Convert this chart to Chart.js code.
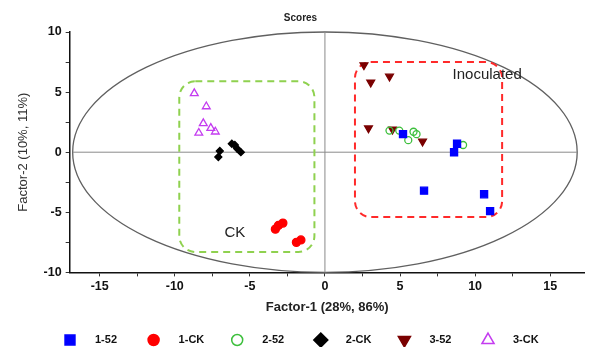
<!DOCTYPE html>
<html>
<head>
<meta charset="utf-8">
<title>Scores</title>
<script src="https://cdn.jsdelivr.net/npm/chart.js@4.4.1/dist/chart.umd.min.js"></script>
<style>
    html, body { margin: 0; padding: 0; background: #fff; }
    #wrap { width: 591px; height: 347px; }
</style>
</head>
<body>
<div id="wrap"><canvas id="scoreChart"></canvas></div>
<script>
// Series names and scores (Factor-1, Factor-2)
const seriesNames = ['1-52', '1-CK', '2-52', '2-CK', '3-52', '3-CK'];

const x152 = [5.2, 8.8, 8.6, 6.6, 10.6, 11.0];
const y152 = [1.5, 0.7, 0.0, -3.2, -3.5, -4.9];

const x1CK = [-3.3, -3.1, -2.8, -1.9, -1.6];
const y1CK = [-6.4, -6.1, -5.9, -7.5, -7.3];

const x252 = [4.3, 4.95, 5.9, 6.1, 5.55, 9.2];
const y252 = [1.8, 1.8, 1.7, 1.5, 1.0, 0.6];

const x2CK = [-7.0, -7.1, -6.2, -6.0, -5.85, -5.6];
const y2CK = [0.1, -0.4, 0.7, 0.6, 0.3, 0.0];

const x352 = [2.6, 3.05, 4.3, 2.9, 4.5, 6.5];
const y352 = [7.25, 5.8, 6.3, 2.0, 1.9, 0.9];

const x3CK = [-8.7, -7.9, -8.1, -7.6, -7.3, -8.4];
const y3CK = [4.9, 3.8, 2.4, 2.0, 1.7, 1.6];

const xTicks = [-15, -10, -5, 0, 5, 10, 15];
const yTicks = [-10, -5, 0, 5, 10];

// Hotelling ellipse semi-axes and the two group boxes
const ellipseAxes = [16.8, 10];
const ckBox = [-9.7, 5.9, -0.7, -8.3];
const inocBox = [2.0, 7.5, 11.8, -5.4];

function pts(xs, ys) {
    return xs.map((x, i) => ({ x: x, y: ys[i] }));
}

const styles = [
    { pointStyle: 'rect', radius: 5, rotation: 0, fill: '#0000ff', stroke: '#0000ff' },
    { pointStyle: 'circle', radius: 4, rotation: 0, fill: '#ff0000', stroke: '#ff0000' },
    { pointStyle: 'circle', radius: 3.5, rotation: 0, fill: 'rgba(0,0,0,0)', stroke: '#3cbf3c' },
    { pointStyle: 'rectRot', radius: 3.5, rotation: 0, fill: '#000000', stroke: '#000000' },
    { pointStyle: 'triangle', radius: 4.5, rotation: 180, fill: '#7a0000', stroke: '#7a0000' },
    { pointStyle: 'triangle', radius: 4.5, rotation: 0, fill: 'rgba(0,0,0,0)', stroke: '#c43cf0' }
];

const allData = [pts(x152, y152), pts(x1CK, y1CK), pts(x252, y252), pts(x2CK, y2CK), pts(x352, y352), pts(x3CK, y3CK)];

const datasets = seriesNames.map((name, i) => ({
    label: name,
    data: allData[i],
    pointStyle: styles[i].pointStyle,
    pointRadius: styles[i].radius,
    pointRotation: styles[i].rotation,
    backgroundColor: styles[i].fill,
    borderColor: styles[i].stroke,
    borderWidth: 1.3,
    order: i
}));

// Ellipse, zero lines, dashed boxes and labels, drawn behind the points
const backdrop = {
    id: 'backdrop',
    beforeDatasetsDraw(chart) {
        const ctx = chart.ctx;
        const xs = chart.scales.x, ys = chart.scales.y;
        const cx = xs.getPixelForValue(0), cy = ys.getPixelForValue(0);
        const rx = xs.getPixelForValue(ellipseAxes[0]) - cx;
        const ry = cy - ys.getPixelForValue(ellipseAxes[1]);

        ctx.save();
        ctx.strokeStyle = '#606060';
        ctx.lineWidth = 1.3;
        ctx.beginPath();
        ctx.ellipse(cx, cy, rx, ry, 0, 0, Math.PI * 2);
        ctx.stroke();

        ctx.strokeStyle = '#8a8a8a';
        ctx.lineWidth = 1;
        ctx.beginPath();
        ctx.moveTo(cx - rx, cy);
        ctx.lineTo(cx + rx, cy);
        ctx.moveTo(cx, cy - ry);
        ctx.lineTo(cx, cy + ry);
        ctx.stroke();

        const box = (b, color) => {
            const l = xs.getPixelForValue(b[0]), t = ys.getPixelForValue(b[1]);
            const r = xs.getPixelForValue(b[2]), btm = ys.getPixelForValue(b[3]);
            ctx.strokeStyle = color;
            ctx.lineWidth = 2;
            ctx.setLineDash([7, 5]);
            ctx.beginPath();
            ctx.roundRect(l, t, r - l, btm - t, 16);
            ctx.stroke();
        };
        box(ckBox, '#8fd14f');
        box(inocBox, '#ff2a2a');
        ctx.setLineDash([]);

        ctx.fillStyle = '#222';
        ctx.font = '15px "Liberation Sans", Arial, sans-serif';
        ctx.textBaseline = 'middle';
        ctx.textAlign = 'left';
        ctx.fillText('Inoculated', xs.getPixelForValue(8.5), ys.getPixelForValue(6.4));
        ctx.textAlign = 'center';
        ctx.fillText('CK', xs.getPixelForValue(-6.0), ys.getPixelForValue(-6.7));
        ctx.restore();
    }
};

// Legend row along the bottom, wide gaps like the original
const bottomLegend = {
    id: 'bottomLegend',
    afterDraw(chart) {
        const ctx = chart.ctx;
        const y = 340;
        ctx.save();
        ctx.font = 'bold 11px "Liberation Sans", Arial, sans-serif';
        ctx.textBaseline = 'middle';
        ctx.textAlign = 'left';
        seriesNames.forEach((name, i) => {
            const mx = 70 + i * 83.6;
            const st = styles[i];
            ctx.fillStyle = st.fill;
            ctx.strokeStyle = st.stroke;
            ctx.lineWidth = 1.5;
            Chart.helpers.drawPoint(ctx, {
                pointStyle: st.pointStyle,
                radius: st.pointStyle === 'circle' ? 5.5 : 7,
                rotation: st.rotation,
                borderWidth: 1.5
            }, mx, y);
            ctx.fillStyle = '#111';
            ctx.fillText(name, mx + 25, y);
        });
        ctx.restore();
    }
};

const tickFont = { family: '"Liberation Sans", Arial, sans-serif', size: 12.5, weight: 'bold' };

new Chart(document.getElementById('scoreChart'), {
    type: 'scatter',
    data: { datasets: datasets },
    options: {
        responsive: true,
        maintainAspectRatio: false,
        animation: false,
        layout: { padding: { left: 16, right: 6, top: 0, bottom: 32 } },
        plugins: {
            legend: { display: false },
            tooltip: { enabled: false },
            title: {
                display: true,
                text: 'Scores',
                color: '#222',
                font: { family: '"Liberation Sans", Arial, sans-serif', size: 10, weight: 'bold' },
                padding: { top: 12, bottom: 8 }
            }
        },
        scales: {
            x: {
                type: 'linear',
                min: -17,
                max: 17.3,
                afterBuildTicks: (axis) => {
                    const t = [];
                    for (let v = -15; v <= 15; v += 2.5) t.push({ value: v });
                    axis.ticks = t;
                },
                ticks: {
                    color: '#111',
                    font: tickFont,
                    padding: 3,
                    maxRotation: 0,
                    callback: (v) => xTicks.includes(v) ? v : ''
                },
                grid: { drawOnChartArea: false, drawTicks: true, tickLength: 4, color: '#333' },
                border: { display: true, color: '#111', width: 1.5 },
                title: {
                    display: true,
                    text: 'Factor-1 (28%, 86%)',
                    color: '#222',
                    font: { family: '"Liberation Sans", Arial, sans-serif', size: 13, weight: 'bold' },
                    padding: { top: 2, bottom: 0 }
                }
            },
            y: {
                type: 'linear',
                min: -10,
                max: 10,
                afterBuildTicks: (axis) => {
                    const t = [];
                    for (let v = -10; v <= 10; v += 2.5) t.push({ value: v });
                    axis.ticks = t;
                },
                ticks: {
                    color: '#111',
                    font: tickFont,
                    padding: 4,
                    callback: (v) => yTicks.includes(v) ? v : ''
                },
                grid: { drawOnChartArea: false, drawTicks: true, tickLength: 4, color: '#333' },
                border: { display: true, color: '#111', width: 1.5 },
                title: {
                    display: true,
                    text: 'Factor-2 (10%, 11%)',
                    color: '#333',
                    font: { family: '"Liberation Sans", Arial, sans-serif', size: 13 },
                    padding: { top: 0, bottom: 8 }
                }
            }
        }
    },
    plugins: [backdrop, bottomLegend]
});
</script>
</body>
</html>
